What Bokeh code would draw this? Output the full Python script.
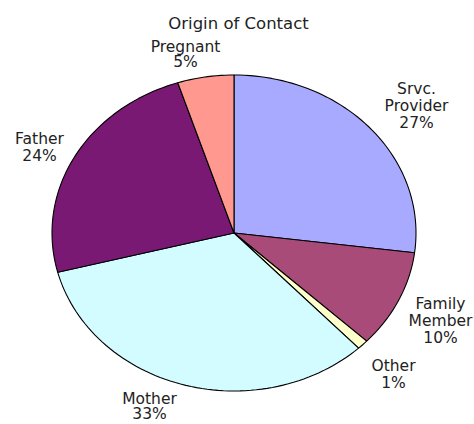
import numpy as np
from bokeh.plotting import figure
from bokeh.models import ColumnDataSource, Range1d
from bokeh.core.properties import value
from bokeh.embed import file_html
from bokeh.resources import INLINE

# ---- data ----
title = "Origin of Contact"
categories = ["Srvc.\nProvider", "Family\nMember", "Other", "Mother", "Father", "Pregnant"]
percents = [27, 10, 1, 33, 24, 5]
colors = ["#A8AAFF", "#A94B78", "#FFFFCC", "#D2FCFF", "#7A1973", "#FF9990"]

# ---- layout (picture pixel geometry) ----
W, H = 474, 424
CX, CY = 233.5, 232.5      # pie centre in picture pixels
RX, RY = 182.0, 158.0      # pixels per data unit (ellipse radii)

def to_x(px):
    return (px - CX) / RX

def to_y(py):
    return (CY - py) / RY

# label anchor: (centre x, first baseline, line spacing) in picture pixels
label_pos = [(416, 88, 17), (440, 303.5, 17), (393, 365, 17),
             (149, 398, 15), (39, 138.5, 16.5), (185, 46.7, 15)]

p = figure(width=W, height=H, output_backend="svg", toolbar_location=None,
           x_range=Range1d(to_x(0), to_x(W)),
           y_range=Range1d(to_y(H), to_y(0)),
           min_border=0, background_fill_color="white", border_fill_color="white")
p.axis.visible = False
p.xgrid.visible = False
p.ygrid.visible = False
p.outline_line_color = None

# slices
vals = np.array(percents, dtype=float)
frac = vals / vals.sum()
edges = np.concatenate([[0.0], np.cumsum(frac)]) * 2 * np.pi
xs, ys = [], []
for a0, a1 in zip(edges[:-1], edges[1:]):
    t = np.linspace(a0, a1, max(4, int(200 * (a1 - a0) / (2 * np.pi)) + 4))
    xs.append([0.0] + list(np.sin(t)) + [0.0])
    ys.append([0.0] + list(np.cos(t)) + [0.0])
p.patches(xs=xs, ys=ys, fill_color=colors, line_color="black", line_width=1.1)

# labels
lx, ly, lt = [], [], []
for cat, pct, (px, py, sp) in zip(categories, percents, label_pos):
    lines = cat.split("\n") + [f"{pct}%"]
    for i, ln in enumerate(lines):
        lx.append(to_x(px))
        ly.append(to_y(py + i * sp))
        lt.append(ln)
src = ColumnDataSource(dict(x=lx, y=ly, text=lt))
p.text(x="x", y="y", text="text", source=src, text_align="center",
       text_baseline="alphabetic", text_font=value("DejaVu Sans"),
       text_font_size="15.5px", text_color="#222222")

p.text(x=[to_x(238)], y=[to_y(23.3)], text=[title], text_align="center",
       text_baseline="alphabetic", text_font=value("DejaVu Sans"),
       text_font_size="16.5px", text_color="#222222")

open("out.html", "w").write(file_html(p, INLINE))
